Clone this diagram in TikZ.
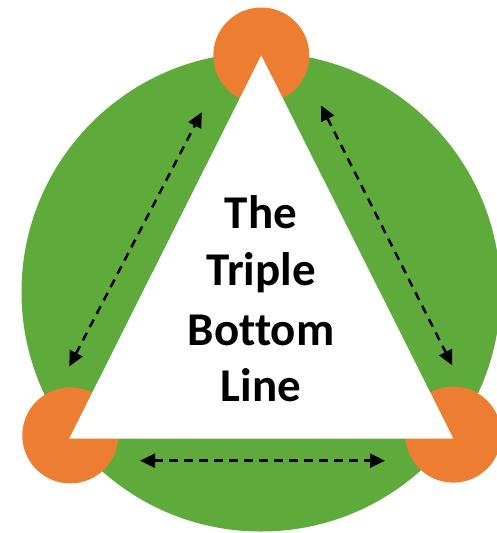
\documentclass[tikz,border=0pt]{standalone}
\usepackage{fontspec}
\setmainfont{Carlito}[Ligatures=NoCommon]
\usetikzlibrary{arrows.meta}
\definecolor{ringgreen}{RGB}{94,170,58}
\definecolor{dotorange}{RGB}{237,125,49}
\tikzset{
  dot/.style={circle, fill=dotorange, inner sep=0pt, minimum size=96pt},
  link/.style={line width=2.5pt, dash pattern=on 8.5pt off 6.5pt, {Triangle[length=15pt,width=14pt]}-{Triangle[length=15pt,width=14pt]}},
  word/.style={anchor=base, inner sep=0pt, font=\fontsize{47}{56}\selectfont\bfseries}
}
\begin{document}
\begin{tikzpicture}[x=1pt,y=-1pt]
\useasboundingbox (0,0) rectangle (496,533);
\fill[ringgreen] (261,292) circle [radius=239.5];
\node[dot] (top) at (261.3,55.5) {};
\node[dot] (bl) at (70.3,435.4) {};
\node[dot] (br) at (453.3,434.6) {};
\coordinate (A) at (261.3,55.4);
\coordinate (B) at (69.3,438.5);
\coordinate (C) at (453.3,438.5);
\fill[white] (A) -- (B) -- (C) -- cycle;
\coordinate (l1) at (69.3,366.4);
\coordinate (l2) at (201.7,112.2);
\coordinate (r1) at (321,105.4);
\coordinate (r2) at (452.3,365.4);
\coordinate (b1) at (140,460.7);
\coordinate (b2) at (385,460.7);
\draw[link] (l1) -- (l2);
\draw[link] (r1) -- (r2);
\draw[link] (b1) -- (b2);
\node[word] (w1) at (261,228.4) {The};
\node[word] (w2) at (261,285.5) {Triple};
\node[word] (w3) at (261,345) {Bottom};
\node[word] (w4) at (261,401) {Line};
\end{tikzpicture}
\end{document}
